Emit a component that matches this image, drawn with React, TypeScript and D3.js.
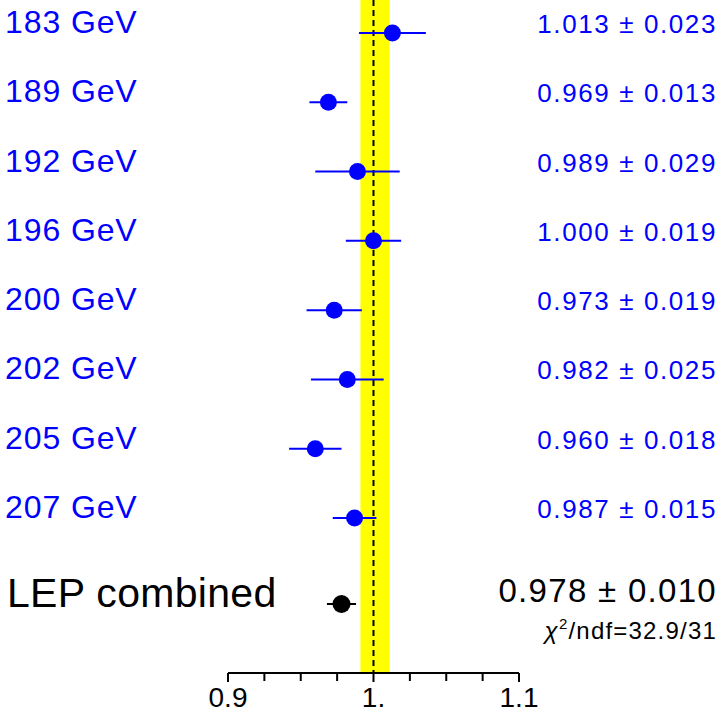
import React from "react";
import * as d3 from "d3";

const energies = ["183 GeV", "189 GeV", "192 GeV", "196 GeV", "200 GeV", "202 GeV", "205 GeV", "207 GeV"];
const values = [1.013, 0.969, 0.989, 1.0, 0.973, 0.982, 0.96, 0.987];
const errors = [0.023, 0.013, 0.029, 0.019, 0.019, 0.025, 0.018, 0.015];
const combinedLabel = "LEP combined";
const combinedValue = 0.978;
const combinedError = 0.01;
const bandRange = [0.991, 1.011];
const refValue = 1.0;
const chi2Text = "32.9/31";
const majorTicks = [0.9, 1.0, 1.1];
const majorTickLabels = ["0.9", "1.", "1.1"];
const minorTicks = [0.925, 0.95, 0.975, 1.025, 1.05, 1.075];

export default function App() {
  const W = 722, H = 713;
  const x = d3.scaleLinear().domain([0.9, 1.1]).range([228, 519]);
  const y = d3.scalePoint<string>().domain(energies).range([33, 518]);
  const yComb = 604;
  const axisY = 673;
  const blue = "#0000ff";
  const font = "Liberation Sans, Arial, sans-serif";
  return (
    <svg width={W} height={H} style={{ position: "absolute", left: 0, top: 0 }} fontFamily={font}>
      <rect x={0} y={0} width={W} height={H} fill="white" />
      <rect x={x(bandRange[0])} y={0} width={x(bandRange[1]) - x(bandRange[0])} height={axisY} fill="#ffff00" />
      <line x1={x(refValue)} x2={x(refValue)} y1={0} y2={axisY} stroke="black" strokeWidth={2} strokeDasharray="6,4" />
      {energies.map((e, i) => {
        const yy = y(e)!;
        return (
          <g key={e}>
            <text x={5} y={yy} fontSize={32} letterSpacing={0.9} fill={blue}>{e}</text>
            <line x1={x(values[i] - errors[i])} x2={x(values[i] + errors[i])} y1={yy} y2={yy} stroke={blue} strokeWidth={2} />
            <circle cx={x(values[i])} cy={yy} r={8.5} fill={blue} />
            <text x={717} y={yy} fontSize={26} letterSpacing={1.6} fill={blue} textAnchor="end">
              {values[i].toFixed(3)} ± {errors[i].toFixed(3)}
            </text>
          </g>
        );
      })}
      <text x={7} y={yComb + 3} fontSize={41} letterSpacing={0.3} fill="black">{combinedLabel}</text>
      <line x1={x(combinedValue - combinedError)} x2={x(combinedValue + combinedError)} y1={yComb} y2={yComb} stroke="black" strokeWidth={2} />
      <circle cx={x(combinedValue)} cy={yComb} r={9} fill="black" />
      <text x={717} y={yComb - 2} fontSize={33} letterSpacing={1.3} fill="black" textAnchor="end">
        {combinedValue.toFixed(3)} ± {combinedError.toFixed(3)}
      </text>
      <text x={717} y={639} fontSize={24} letterSpacing={1.2} fill="black" textAnchor="end">
        <tspan fontStyle="italic">χ</tspan>
        <tspan fontSize={15} dy={-10}>2</tspan>
        <tspan dy={10}>/ndf={chi2Text}</tspan>
      </text>
      <line x1={x(0.9)} x2={x(1.1)} y1={axisY} y2={axisY} stroke="black" strokeWidth={2} />
      {majorTicks.map((t, i) => (
        <g key={t}>
          <line x1={x(t)} x2={x(t)} y1={axisY} y2={axisY + 9} stroke="black" strokeWidth={2} />
          <text x={x(t)} y={707} fontSize={28} textAnchor="middle" fill="black">{majorTickLabels[i]}</text>
        </g>
      ))}
      {minorTicks.map((t) => (
        <line key={t} x1={x(t)} x2={x(t)} y1={axisY} y2={axisY + 8} stroke="black" strokeWidth={2} />
      ))}
    </svg>
  );
}
